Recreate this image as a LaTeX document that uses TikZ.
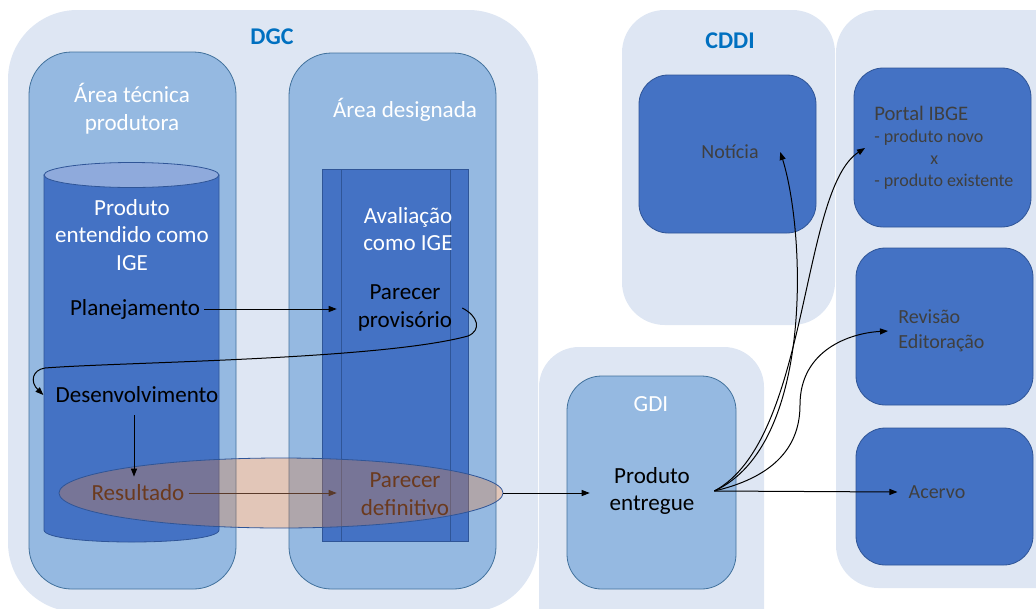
\documentclass[tikz,border=0pt]{standalone}
\usepackage{fontspec}
\setmainfont{Carlito}
\usetikzlibrary{arrows.meta,shapes.geometric}
\definecolor{bgL}{HTML}{DEE6F3}
\definecolor{midB}{HTML}{95B9E1}
\definecolor{cylTop}{HTML}{8FAADC}
\definecolor{darkB}{HTML}{4472C4}
\definecolor{bordD}{HTML}{2F5597}
\definecolor{bordM}{HTML}{41719C}
\definecolor{titleB}{HTML}{0070C0}
\definecolor{ellO}{HTML}{ED7D31}
\definecolor{brownT}{HTML}{6B3A1E}
\definecolor{brownA}{HTML}{5A3A2A}
\definecolor{grayT}{HTML}{3F3F3F}
\begin{document}
\begin{tikzpicture}[x=0.75pt,y=-0.75pt,
  outerbox/.style={fill=bgL, draw=none},
  areabox/.style={fill=midB, draw=bordM, line width=0.6pt},
  darkbox/.style={fill=darkB, draw=bordD, line width=0.6pt},
  arr/.style={draw=black, line width=0.75pt, -{Triangle[length=6pt,width=4.5pt]}},
  txt/.style={inner sep=0pt, align=center, font=\fontsize{17.3}{20.8}\selectfont},
  rtxt/.style={inner sep=0pt, text=grayT, font=\fontsize{15}{18.75}\selectfont},
  titletxt/.style={inner sep=0pt, text=titleB, font=\fontsize{18}{21}\selectfont\bfseries},
  ellnode/.style={ellipse, inner sep=0pt, minimum width=333pt, minimum height=52.5pt,
     fill=ellO, fill opacity=0.3, draw=bordD, draw opacity=1, line width=0.6pt}]
\useasboundingbox (0,0) rectangle (1036,608);

% outer regions
\path[outerbox, rounded corners=52pt] (8,10) rectangle (538,612);
\path[outerbox, rounded corners=30pt] (539,347) rectangle (764,660);
\path[outerbox, rounded corners=32pt] (622,10) rectangle (835,325);
\path[outerbox, rounded corners=32pt] (836,10) rectangle (1080,588);

% area boxes
\path[areabox, rounded corners=32pt] (29,52) rectangle (236,589);
\path[areabox, rounded corners=32pt] (289,53) rectangle (496,589);

% cylinder
\path[fill=darkB, draw=bordD, line width=0.6pt] (44,175) -- (44,530) .. controls (44,546) and (219,546) .. (219,530) -- (219,175) -- cycle;
\path[fill=cylTop, draw=bordD, line width=0.6pt] (131.5,175) ellipse [x radius=87.5, y radius=12.5];

% predefined process
\path[fill=darkB, draw=bordD, line width=0.6pt] (322,169) rectangle (468,541);
\draw[bordD, line width=0.6pt] (341,169) -- (341,541);
\draw[bordD, line width=0.6pt] (450,169) -- (450,541);

% right boxes
\path[darkbox, rounded corners=22pt] (639,75) rectangle (816,233);
\path[darkbox, rounded corners=22pt] (854,68) rectangle (1031,227);
\path[darkbox, rounded corners=22pt] (856,248) rectangle (1033,405);
\path[darkbox, rounded corners=22pt] (856,428) rectangle (1033,565);

% GDI inner
\path[areabox, rounded corners=26pt] (567,376) rectangle (736,589);

% ellipse
\node[ellnode] (ell) at (281,493) {};

% titles
\node[titletxt] (dgc) at (272,37) {DGC};
\node[titletxt] (cddi) at (730,41) {CDDI};

% texts left
\node[txt, text=white] (areatec) at (132,109) {Área técnica\\produtora};
\node[txt, text=white] (areades) at (405,110) {Área designada};
\node[txt, text=white] (prodige) at (132,235) {Produto\\entendido como\\IGE};
\node[txt] (plan) at (135,309) {Planejamento};
\node[txt] (dev) at (137,395) {Desenvolvimento};
\node[txt, text=brownT] (res) at (138,493) {Resultado};
\node[txt, text=white] (aval) at (408,229) {Avaliação\\como IGE};
\node[txt, text width=102pt] (parprov) at (405,308) {Parecer\\provisório};
\node[txt, text width=102pt, text=brownT] (pardef) at (405,494) {Parecer\\definitivo};

% GDI texts
\node[txt, text=white] (gdi) at (651,404) {GDI};
\node[txt, text width=93pt] (prodent) at (652,491) {Produto\\entregue};

% right texts
\node[rtxt, text width=75pt, align=center] (noticia) at (730,152) {Notícia};
\node[rtxt, anchor=west, align=left, font=\fontsize{13.5}{16.5}\selectfont] (portal) at (874,148)
  {{\fontsize{15.5}{16.5}\selectfont Portal IBGE}\\- produto novo\\\hspace*{42pt}x\\- produto existente};
\node[rtxt, anchor=west, align=left, inner xsep=7.5pt] (rev) at (888,331) {Revisão\\Editoração};
\node[rtxt, inner xsep=8.25pt] (acervo) at (937,492) {Acervo};

% connectors left
\draw[arr, shorten <=3pt] (plan.east) -- (parprov.west |- plan.east);
\draw[arr] ([xshift=-8.25pt]parprov.east) .. controls (478,316) and (482,330) .. (468,336)
   .. controls (380,360) and (120,362) .. (45,368)
   .. controls (32,370) and (30,382) .. ([xshift=-9pt]dev.west);
\draw[arr, shorten <=9pt, shorten >=6pt] ([xshift=-2.25pt]dev.south) -- ([xshift=-3pt]res.north);
\draw[arr, draw=brownA, shorten <=3pt] (res.east) -- (pardef.west |- res.east);
\draw[arr] (ell.east) -- (prodent.west |- ell.east);

% connectors right
\draw[arr] (prodent.east) .. controls (815,445) and (805,230) .. (noticia.east);
\draw[arr] (prodent.east) .. controls (810,440) and (800,190) .. ([xshift=-6.75pt]portal.west);
\draw[arr] (prodent.east) .. controls (770,478) and (800,450) .. (800,405)
   .. controls (800,350) and (850,333) .. (rev.west);
\draw[arr] (prodent.east) -- (acervo.west);
\end{tikzpicture}
\end{document}
